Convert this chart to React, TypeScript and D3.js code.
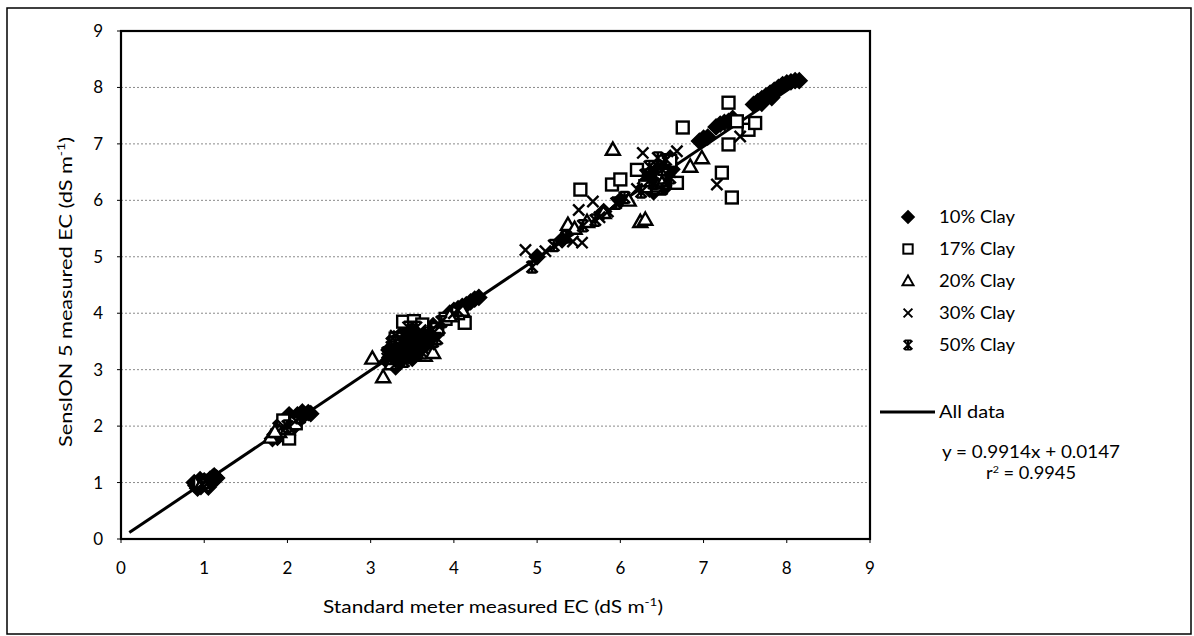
import React from "react";
import * as d3 from "d3";

// ---- Data (x = standard meter EC, y = SensION 5 EC), dS m-1 ----
const clay10: [number, number][] = [
  [0.9, 0.95], [0.93, 1.0], [0.96, 0.93], [0.98, 0.98], [1.0, 1.03], [1.03, 0.97], [1.07, 1.06], [1.1, 1.09], [0.95, 1.05],
  [0.88, 1.0], [1.12, 1.12], [1.05, 0.92], [0.92, 0.9], [1.15, 1.08],
  [1.85, 1.85], [1.9, 1.95], [1.95, 2.0], [2.0, 2.05], [2.05, 2.1], [2.1, 2.12], [2.15, 2.18], [2.2, 2.2], [2.25, 2.24], [1.98, 1.92], [2.08, 2.02],
  [1.82, 1.78], [1.88, 1.8], [1.95, 1.85], [2.05, 1.95], [2.12, 2.2], [2.18, 2.25], [2.28, 2.22], [2.02, 2.2], [1.92, 2.05],
  [3.2, 3.15], [3.25, 3.25], [3.3, 3.3], [3.35, 3.4], [3.4, 3.45], [3.45, 3.5], [3.5, 3.55], [3.55, 3.6], [3.6, 3.62], [3.65, 3.7], [3.7, 3.72], [3.75, 3.78], [3.3, 3.45], [3.4, 3.3], [3.5, 3.4], [3.6, 3.45],
  [3.22, 3.35], [3.28, 3.55], [3.35, 3.6], [3.42, 3.65], [3.48, 3.75], [3.38, 3.2], [3.45, 3.25], [3.55, 3.3], [3.62, 3.38], [3.68, 3.5], [3.72, 3.6], [3.8, 3.65], [3.3, 3.05], [3.35, 3.15], [3.5, 3.2],
  [3.95, 4.0], [4.0, 4.05], [4.05, 4.08], [4.1, 4.12], [4.15, 4.15], [4.2, 4.2], [4.25, 4.25], [4.3, 4.28],
  [5.0, 5.0], [5.3, 5.3], [5.8, 5.8], [6.0, 6.0], [6.3, 6.3], [6.4, 6.4], [6.5, 6.5], [6.55, 6.6], [6.6, 6.65],
  [6.35, 6.2], [6.45, 6.3], [6.5, 6.35], [6.55, 6.45], [6.45, 6.55], [6.6, 6.75], [6.4, 6.15], [6.55, 6.25], [6.62, 6.55],
  [6.95, 7.05], [7.0, 7.1], [7.05, 7.12], [7.15, 7.3], [7.2, 7.35], [7.25, 7.38], [7.3, 7.4], [7.35, 7.45],
  [7.6, 7.7], [7.65, 7.75], [7.7, 7.8], [7.75, 7.85], [7.8, 7.9], [7.85, 7.95], [7.9, 8.0], [7.95, 8.05], [8.0, 8.08], [8.05, 8.1], [8.1, 8.12], [8.15, 8.12], [7.7, 7.72], [7.82, 7.82],
];
const clay17: [number, number][] = [
  [0.95, 0.98], [1.0, 0.96],
  [1.95, 2.1], [2.02, 1.78], [2.1, 2.05],
  [3.39, 3.85], [3.52, 3.86], [3.62, 3.8], [3.3, 3.55], [3.8, 3.72],
  [3.9, 3.9], [4.13, 3.83], [4.05, 4.0],
  [5.52, 6.19], [5.9, 6.28], [6.0, 6.37], [6.2, 6.54], [6.45, 6.22], [6.68, 6.31], [6.3, 6.25], [6.5, 6.45], [6.6, 6.7],
  [7.22, 6.49], [7.34, 6.05], [7.3, 6.99], [6.75, 7.29], [7.3, 7.73], [7.54, 7.25], [7.62, 7.37], [7.4, 7.4],
];
const clay20: [number, number][] = [
  [0.98, 1.0],
  [1.8, 1.8], [1.9, 1.9], [2.0, 1.95], [1.85, 1.9],
  [3.02, 3.2], [3.15, 2.87], [3.25, 3.1], [3.65, 3.25], [3.75, 3.3],
  [3.95, 3.95], [4.1, 4.05],
  [5.37, 5.57], [5.45, 5.5], [5.6, 5.62], [5.8, 5.78], [6.24, 5.62], [6.3, 5.66], [5.91, 6.9], [6.84, 6.6], [6.98, 6.75], [6.45, 6.25], [6.5, 6.3], [6.1, 6.0],
];
const clay30: [number, number][] = [
  [1.02, 1.02], [1.08, 1.05],
  [1.95, 2.0], [2.1, 2.1],
  [3.2, 3.2], [3.35, 3.35], [3.5, 3.5], [3.65, 3.55], [3.8, 3.8], [3.45, 3.3], [3.7, 3.45],
  [3.3, 3.6], [3.55, 3.25], [3.6, 3.7], [3.42, 3.5],
  [4.0, 4.0],
  [4.86, 5.12], [5.1, 5.1], [5.43, 5.27], [5.54, 5.25], [5.5, 5.83], [5.67, 5.98], [5.75, 5.7], [5.85, 5.8],
  [6.27, 6.84], [6.68, 6.87], [7.16, 6.28], [7.44, 7.13], [6.4, 6.55], [6.2, 6.2], [6.6, 6.5],
];
const clay50: [number, number][] = [
  [0.97, 0.97], [1.05, 1.0],
  [2.0, 2.0], [2.15, 2.15],
  [3.3, 3.25], [3.4, 3.4], [3.55, 3.45], [3.6, 3.55], [3.7, 3.65], [3.75, 3.5], [3.25, 3.4], [3.45, 3.6], [3.85, 3.85],
  [3.3, 3.5], [3.4, 3.6], [3.5, 3.7], [3.35, 3.3], [3.45, 3.45], [3.6, 3.4], [3.65, 3.6], [3.55, 3.75], [3.7, 3.5],
  [3.4, 3.15], [3.3, 3.1], [3.5, 3.3], [3.62, 3.3], [3.75, 3.65], [3.45, 3.75], [3.25, 3.2], [3.8, 3.55], [3.2, 3.3],
  [4.05, 4.05],
  [4.94, 4.82], [5.2, 5.2], [5.35, 5.35], [5.55, 5.55], [5.7, 5.65], [5.95, 5.95], [6.05, 6.05], [6.25, 6.15], [6.35, 6.35], [6.45, 6.6], [6.55, 6.72], [6.6, 6.4], [6.5, 6.2],
  [6.3, 6.45], [6.4, 6.3], [6.5, 6.55], [6.55, 6.35], [6.45, 6.75], [6.35, 6.6],
];

const seriesNames = ["10% Clay", "17% Clay", "20% Clay", "30% Clay", "50% Clay"];
const xTicks = [0, 1, 2, 3, 4, 5, 6, 7, 8, 9];
const yTicks = [0, 1, 2, 3, 4, 5, 6, 7, 8, 9];
const fitSlope = 0.9914;
const fitIntercept = 0.0147;
const fitRange = [0.1, 8.15];
const fitLabel = "All data";
const eqText = "y = 0.9914x + 0.0147";
const r2Value = "0.9945";

const FONT = "Lato, 'Open Sans', sans-serif";

type Kind = "diamond" | "square" | "triangle" | "x" | "star";

function Marker({ kind, cx, cy, s, sw = 2.4 }: { kind: Kind; cx: number; cy: number; s: number; sw?: number }) {
  const h = s / 2;
  if (kind === "diamond") {
    const q = h * 1.12;
    return <path d={`M${cx},${cy - q}L${cx + q},${cy}L${cx},${cy + q}L${cx - q},${cy}Z`} fill="#000" stroke="#000" strokeWidth={1.5} />;
  }
  if (kind === "square") {
    const q = h * 0.85;
    return <rect x={cx - q} y={cy - q} width={2 * q} height={2 * q} fill="#fff" stroke="#000" strokeWidth={sw} />;
  }
  if (kind === "triangle") {
    return <path d={`M${cx},${cy - h}L${cx + h},${cy + h * 0.75}L${cx - h},${cy + h * 0.75}Z`} fill="#fff" stroke="#000" strokeWidth={sw} strokeLinejoin="miter" />;
  }
  if (kind === "x") {
    const q = h * 0.8;
    return <path d={`M${cx - q},${cy - q}L${cx + q},${cy + q}M${cx - q},${cy + q}L${cx + q},${cy - q}`} stroke="#000" strokeWidth={sw} fill="none" />;
  }
  const q = h * 0.8;
  return (
    <path
      d={`M${cx - q},${cy - q}L${cx + q},${cy + q}M${cx - q},${cy + q}L${cx + q},${cy - q}M${cx},${cy - q}L${cx},${cy + q}M${cx - q * 0.75},${cy - q}L${cx + q * 0.75},${cy - q}M${cx - q * 0.75},${cy + q}L${cx + q * 0.75},${cy + q}`}
      stroke="#000"
      strokeWidth={sw}
      fill="none"
    />
  );
}

export default function App() {
  const W = 1194;
  const H = 636;
  const left = 121;
  const right = 870;
  const top = 31;
  const bottom = 539;

  const x = d3.scaleLinear().domain([0, 9]).range([left, right]);
  const y = d3.scaleLinear().domain([0, 9]).range([bottom, top]);

  const series: { data: [number, number][]; kind: Kind }[] = [
    { data: clay10, kind: "diamond" },
    { data: clay17, kind: "square" },
    { data: clay20, kind: "triangle" },
    { data: clay30, kind: "x" },
    { data: clay50, kind: "star" },
  ];

  const fitLine = d3
    .line<number>()
    .x((v) => x(v))
    .y((v) => y(fitSlope * v + fitIntercept));

  const legendX = 908;
  const legendY0 = 217;
  const legendStep = 32;

  return (
    <svg width={W} height={H} style={{ position: "absolute", left: 0, top: 0, background: "#fff" }} fontFamily={FONT}>
      <rect x={0} y={0} width={W} height={H} fill="#fff" />
      {/* outer frame */}
      <rect x={7} y={8} width={1184} height={626} fill="none" stroke="#000" strokeWidth={1.5} />

      {/* gridlines */}
      {yTicks.filter((t) => t > 0 && t < 9).map((t) => (
        <line key={"g" + t} x1={left} x2={right} y1={y(t)} y2={y(t)} stroke="#8a8a8a" strokeWidth={1} strokeDasharray="2,2" />
      ))}

      {/* fit line */}
      <path d={fitLine(fitRange) || ""} stroke="#000" strokeWidth={3} fill="none" />

      {/* markers */}
      {series.map((s, i) => (
        <g key={"s" + i}>
          {s.data.map((d, j) => (
            <Marker key={j} kind={s.kind} cx={x(d[0])} cy={y(d[1])} s={14} />
          ))}
        </g>
      ))}

      {/* plot frame */}
      <rect x={left} y={top} width={right - left} height={bottom - top} fill="none" stroke="#000" strokeWidth={2.2} />

      {/* y ticks */}
      {yTicks.map((t) => (
        <g key={"yt" + t}>
          <line x1={left - 4} x2={left} y1={y(t)} y2={y(t)} stroke="#000" strokeWidth={1} />
          <text x={left - 18} y={y(t)} dy="0.35em" textAnchor="end" fontSize={17} fill="#000">
            {t}
          </text>
        </g>
      ))}
      {/* x ticks */}
      {xTicks.map((t) => (
        <g key={"xt" + t}>
          <line x1={x(t)} x2={x(t)} y1={bottom} y2={bottom + 4} stroke="#000" strokeWidth={1} />
          <text x={x(t)} y={568} dy="0.35em" textAnchor="middle" fontSize={17} fill="#000">
            {t}
          </text>
        </g>
      ))}

      {/* axis titles */}
      <text x={493} y={607} dy="0.35em" textAnchor="middle" fontSize={17} fill="#000" textLength={340} lengthAdjust="spacingAndGlyphs">
        Standard meter measured EC (dS m
        <tspan dy="-7" fontSize={11}>-1</tspan>
        <tspan dy="7">)</tspan>
      </text>
      <text transform={`translate(66,292) rotate(-90)`} textAnchor="middle" dy="0.35em" fontSize={17} fill="#000" textLength={310} lengthAdjust="spacingAndGlyphs">
        SensION 5 measured EC (dS m
        <tspan dy="-7" fontSize={11}>-1</tspan>
        <tspan dy="7">)</tspan>
      </text>

      {/* legend */}
      {seriesNames.map((n, i) => (
        <g key={"l" + i}>
          <Marker kind={series[i].kind} cx={legendX} cy={legendY0 + i * legendStep} s={11} sw={2} />
          <text x={939} y={legendY0 + i * legendStep} dy="0.35em" fontSize={17} fill="#000" textLength={76} lengthAdjust="spacingAndGlyphs">
            {n}
          </text>
        </g>
      ))}
      <line x1={880} x2={935} y1={412} y2={412} stroke="#000" strokeWidth={3} />
      <text x={939} y={412} dy="0.35em" fontSize={17} fill="#000" textLength={66} lengthAdjust="spacingAndGlyphs">
        {fitLabel}
      </text>
      <text x={942} y={452} dy="0.35em" fontSize={17} fill="#000" textLength={178} lengthAdjust="spacingAndGlyphs">
        {eqText}
      </text>
      <text x={1031} y={473} dy="0.35em" textAnchor="middle" fontSize={17} fill="#000" textLength={90} lengthAdjust="spacingAndGlyphs">
        r<tspan dy="-6" fontSize={10}>2</tspan>
        <tspan dy="6">{" = " + r2Value}</tspan>
      </text>
    </svg>
  );
}
